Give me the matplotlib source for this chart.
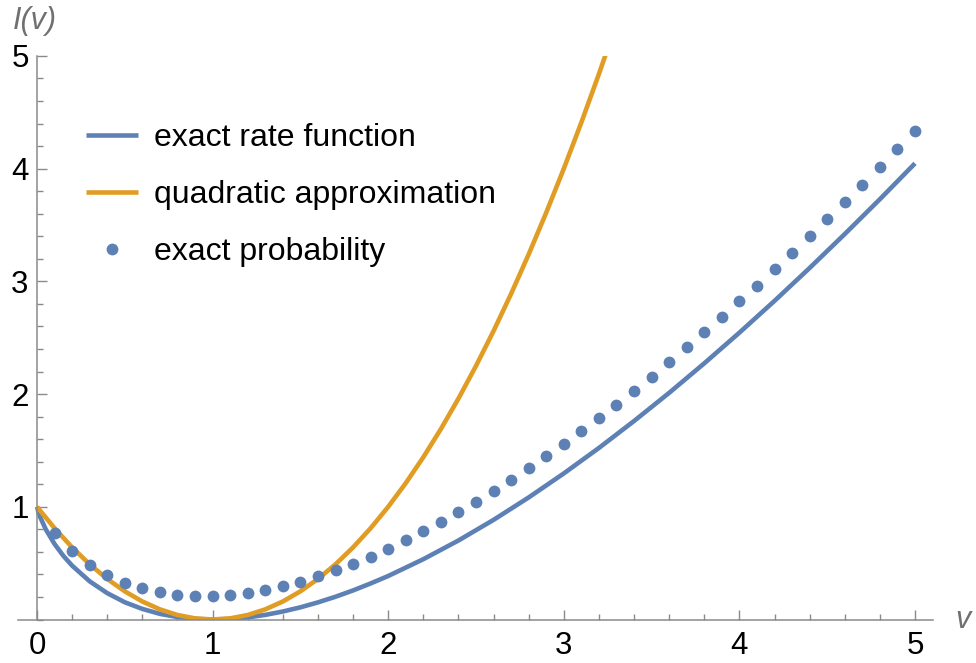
import matplotlib
matplotlib.use('Agg')
import matplotlib.pyplot as plt
from matplotlib.ticker import MultipleLocator, FixedLocator

plt.rcParams['font.family'] = ['Liberation Sans', 'DejaVu Sans']

# exact rate function I(v)
v_rate = [0, 0.01, 0.02, 0.05, 0.1, 0.15, 0.2, 0.3, 0.4, 0.5, 0.6, 0.7, 0.8, 0.9,
          1.0, 1.1, 1.2, 1.3, 1.4, 1.5, 1.6, 1.7, 1.8, 1.9, 2.0, 2.2, 2.4, 2.6,
          2.8, 3.0, 3.2, 3.4, 3.6, 3.8, 4.0, 4.2, 4.4, 4.6, 4.8, 5.0]
I_rate = [1.000, 0.944, 0.902, 0.800, 0.670, 0.565, 0.478, 0.339, 0.234, 0.153,
          0.094, 0.050, 0.022, 0.005, 0.000, 0.005, 0.019, 0.041, 0.071, 0.108,
          0.152, 0.202, 0.258, 0.320, 0.386, 0.535, 0.701, 0.884, 1.083, 1.296,
          1.522, 1.761, 2.011, 2.273, 2.545, 2.827, 3.119, 3.420, 3.729, 4.047]

# quadratic approximation
v_quad = [0, 0.1, 0.2, 0.3, 0.4, 0.5, 0.6, 0.7, 0.8, 0.9, 1.0, 1.1, 1.2, 1.3, 1.4,
          1.5, 1.6, 1.7, 1.8, 1.9, 2.0, 2.1, 2.2, 2.3, 2.4, 2.5, 2.6, 2.7, 2.8,
          2.9, 3.0, 3.1, 3.2, 3.3]
I_quad = [1.00, 0.81, 0.64, 0.49, 0.36, 0.25, 0.16, 0.09, 0.04, 0.01, 0.00, 0.01,
          0.04, 0.09, 0.16, 0.25, 0.36, 0.49, 0.64, 0.81, 1.00, 1.21, 1.44, 1.69,
          1.96, 2.25, 2.56, 2.89, 3.24, 3.61, 4.00, 4.41, 4.84, 5.29]

# exact probability (dots, step 0.1)
v_prob = [0.1, 0.2, 0.3, 0.4, 0.5, 0.6, 0.7, 0.8, 0.9, 1.0, 1.1, 1.2, 1.3,
          1.4, 1.5, 1.6, 1.7, 1.8, 1.9, 2.0, 2.1, 2.2, 2.3, 2.4, 2.5, 2.6, 2.7,
          2.8, 2.9, 3.0, 3.1, 3.2, 3.3, 3.4, 3.5, 3.6, 3.7, 3.8, 3.9, 4.0, 4.1,
          4.2, 4.3, 4.4, 4.5, 4.6, 4.7, 4.8, 4.9, 5.0]
I_prob = [0.770, 0.609, 0.488, 0.397, 0.327, 0.276, 0.241, 0.218, 0.208,
          0.208, 0.217, 0.236, 0.262, 0.296, 0.336, 0.383, 0.436, 0.495, 0.559,
          0.628, 0.703, 0.781, 0.865, 0.952, 1.044, 1.139, 1.239, 1.342, 1.448,
          1.558, 1.671, 1.788, 1.907, 2.029, 2.155, 2.283, 2.414, 2.547, 2.683,
          2.822, 2.963, 3.106, 3.252, 3.400, 3.551, 3.703, 3.858, 4.015, 4.174,
          4.335]

x_ticks = [0, 1, 2, 3, 4, 5]
y_ticks = [1, 2, 3, 4, 5]

blue = '#5E81B5'
orange = '#E19C24'
axis_gray = '#8a8a8a'

fig = plt.figure(figsize=(9.76, 6.63), dpi=100)
ax = fig.add_axes([0.0181, 0.0656, 0.9374, 0.850])

ax.plot(v_rate, I_rate, color=blue, lw=3.3, label='exact rate function',
        solid_capstyle='butt')
ax.plot(v_quad, I_quad, color=orange, lw=3.3, label='quadratic approximation',
        solid_capstyle='butt')
ax.plot(v_prob, I_prob, 'o', color=blue, ms=8.5, mec='none', label='exact probability')

ax.set_xlim(-0.11, 5.1)
ax.set_ylim(0, 5)

for s in ['top', 'right']:
    ax.spines[s].set_visible(False)
ax.spines['left'].set_position(('data', 0))
ax.spines['left'].set_color(axis_gray)
ax.spines['bottom'].set_color(axis_gray)
ax.spines['left'].set_linewidth(1.1)
ax.spines['bottom'].set_linewidth(1.1)

ax.xaxis.set_major_locator(FixedLocator(x_ticks))
ax.yaxis.set_major_locator(FixedLocator(y_ticks))
ax.xaxis.set_minor_locator(MultipleLocator(0.2))
ax.yaxis.set_minor_locator(MultipleLocator(0.2))
ax.set_xticklabels([str(t) for t in x_ticks])
ax.set_yticklabels([str(t) for t in y_ticks])
ax.tick_params(which='major', direction='in', length=7, width=1, color=axis_gray,
               labelsize=22.5, pad=8)
ax.tick_params(which='minor', direction='in', length=4.5, width=1, color=axis_gray)
ax.tick_params(axis='y', which='both', pad=6)

fig.text(0.0133, 0.968, 'I(v)', style='italic', color='#707070', fontsize=22,
         ha='left', va='center')
fig.text(0.987, 0.065, 'v', style='italic', color='#707070', fontsize=22,
         ha='center', va='center')

ax.legend(loc='upper left', bbox_to_anchor=(0.0607, 0.904), frameon=False,
          fontsize=23, handlelength=1.63, handletextpad=0.5, labelspacing=0.85,
          borderaxespad=0)

fig.savefig('out.png', dpi=100)
